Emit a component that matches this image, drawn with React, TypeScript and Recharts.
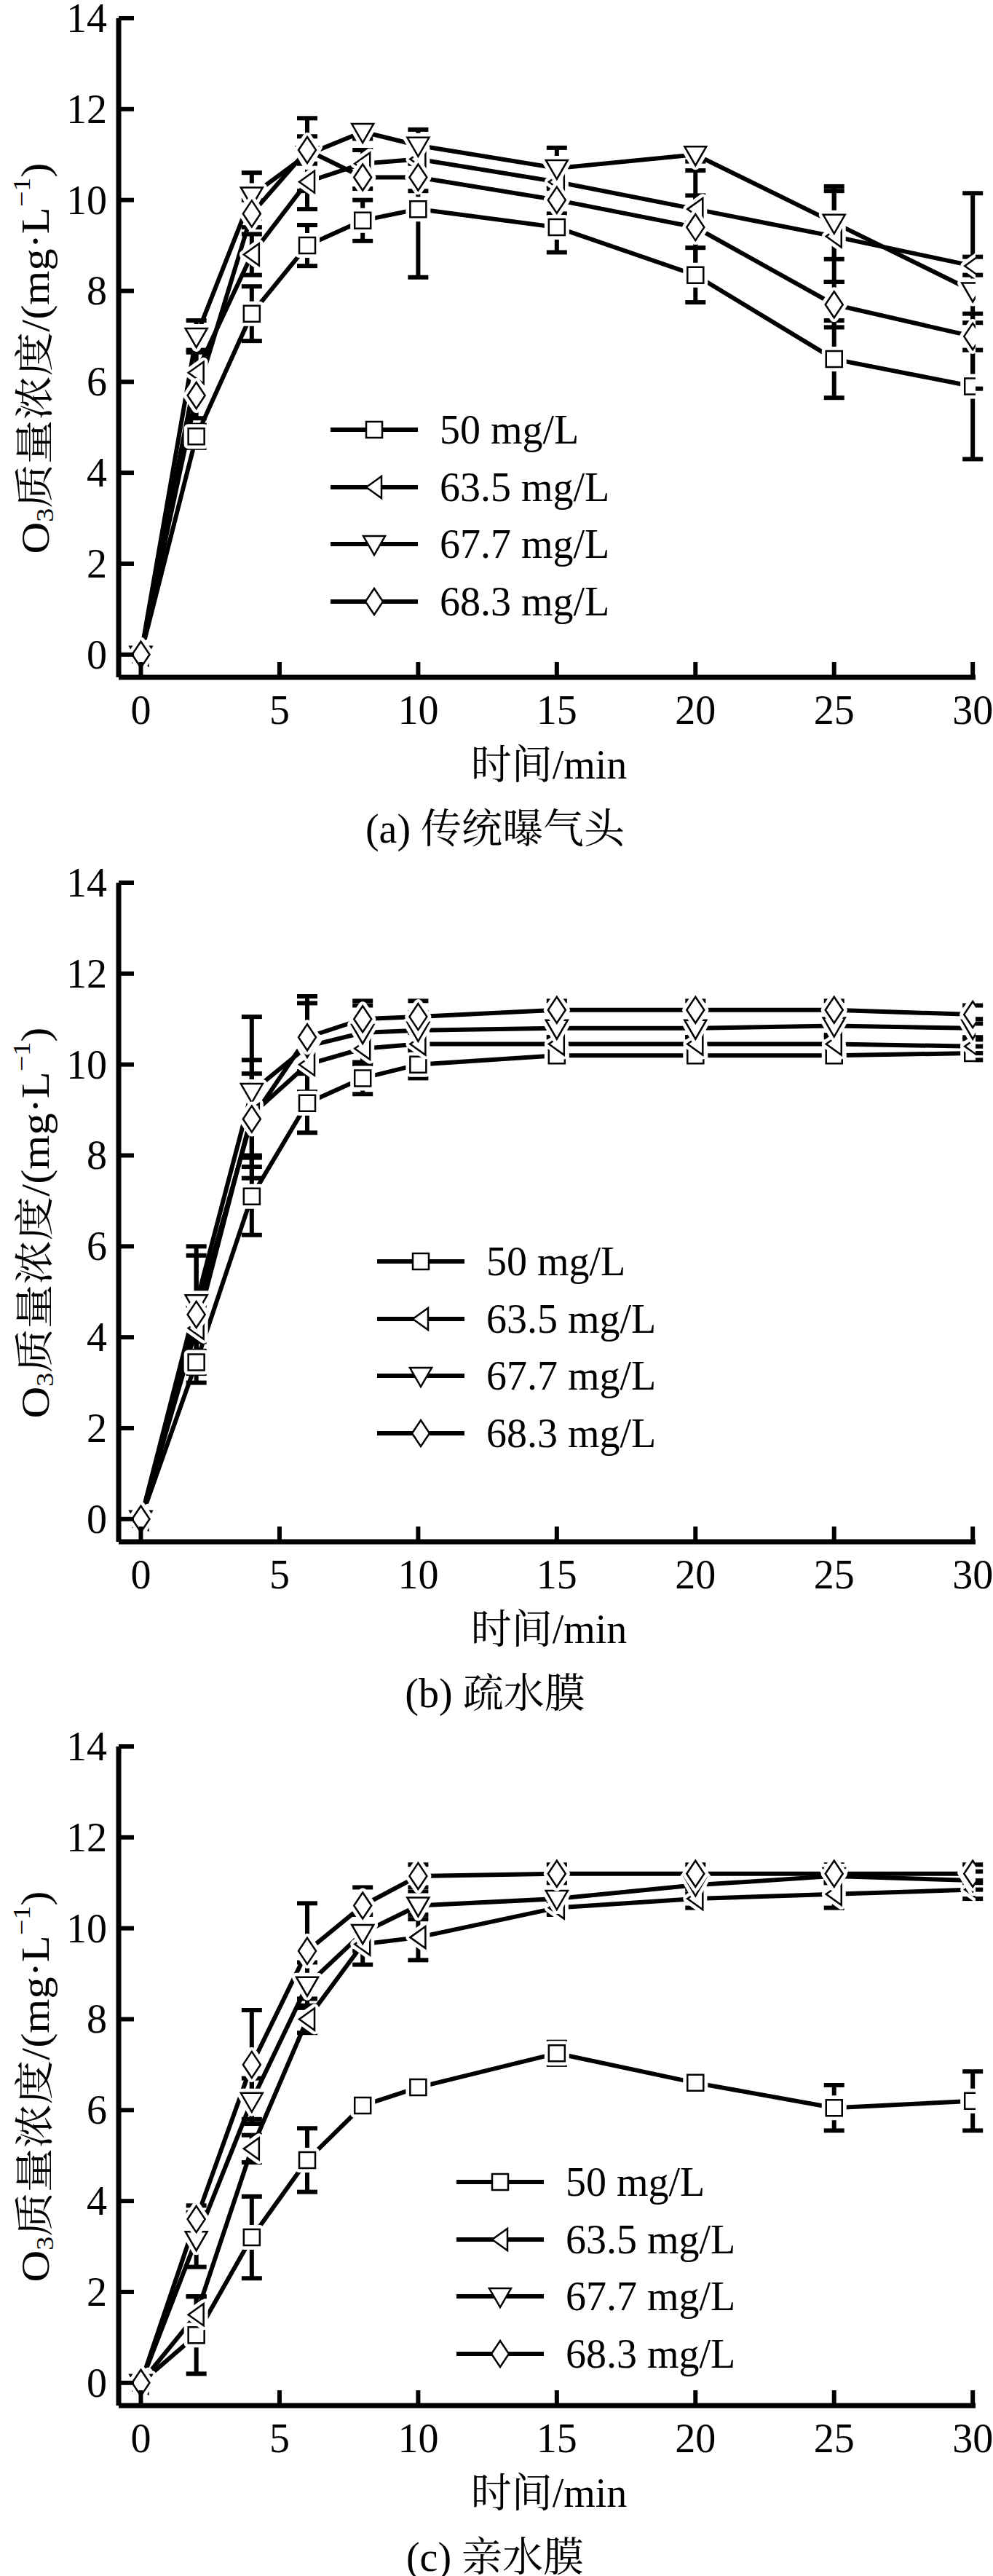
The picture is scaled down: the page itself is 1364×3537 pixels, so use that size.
import { LineChart, Line, XAxis, YAxis, ErrorBar, Legend } from "recharts";

const FONT = '"Liberation Serif", "Times New Roman", "Noto Serif CJK SC", "Noto Sans CJK SC", serif';

// sampling times (min) and axis ticks
const times = [0, 2, 4, 6, 8, 10, 15, 20, 25, 30];
const xTicks = [0, 5, 10, 15, 20, 25, 30];
const yTicks = [0, 2, 4, 6, 8, 10, 12, 14];
const seriesNames = ["50 mg/L", "63.5 mg/L", "67.7 mg/L", "68.3 mg/L"];
const markerShapes = ["square", "left", "down", "diamond"];

// (a) 传统曝气头
const aerator50 = [0, 4.8, 7.5, 9.0, 9.55, 9.8, 9.4, 8.35, 6.5, 5.9];
const aerator50Err = [0.1, 0.25, 0.6, 0.45, 0.45, 1.5, 0.55, 0.6, 0.85, 1.6];
const aerator635 = [0, 6.2, 8.8, 10.4, 10.8, 10.9, 10.4, 9.8, 9.2, 8.55];
const aerator635Err = [0.05, 0.5, 0.45, 0.6, 0.3, 0.3, 0.4, 0.3, 1.0, 0.2];
const aerator677 = [0, 7.0, 10.1, 11.0, 11.5, 11.2, 10.7, 11.0, 9.5, 8.0];
const aerator677Err = [0.05, 0.35, 0.5, 0.8, 0.15, 0.35, 0.45, 0.15, 0.8, 2.15];
const aerator683 = [0, 5.7, 9.7, 11.1, 10.5, 10.5, 10.0, 9.4, 7.7, 7.0];
const aerator683Err = [0.05, 0.5, 0.3, 0.3, 0.25, 0.3, 0.3, 1.25, 0.5, 0.3];

// (b) 疏水膜
const phobic50 = [0, 3.45, 7.1, 9.15, 9.7, 10.0, 10.2, 10.2, 10.2, 10.25];
const phobic50Err = [0.05, 0.45, 0.85, 0.65, 0.35, 0.3, 0.15, 0.15, 0.15, 0.15];
const phobic635 = [0, 4.2, 8.9, 10.0, 10.35, 10.45, 10.45, 10.45, 10.45, 10.4];
const phobic635Err = [0.05, 0.5, 0.9, 0.6, 0.5, 0.3, 0.15, 0.15, 0.15, 0.15];
const phobic677 = [0, 4.75, 9.4, 10.4, 10.7, 10.75, 10.8, 10.8, 10.85, 10.8];
const phobic677Err = [0.05, 1.25, 1.65, 1.1, 0.7, 0.4, 0.2, 0.2, 0.2, 0.2];
const phobic683 = [0, 4.5, 8.8, 10.6, 11.0, 11.05, 11.2, 11.2, 11.2, 11.1];
const phobic683Err = [0.05, 1.3, 1.3, 0.75, 0.3, 0.35, 0.2, 0.2, 0.2, 0.2];

// (c) 亲水膜
const philic50 = [0, 1.05, 3.2, 4.9, 6.1, 6.5, 7.25, 6.6, 6.05, 6.2];
const philic50Err = [0.05, 0.85, 0.9, 0.7, 0.15, 0.2, 0.25, 0.15, 0.5, 0.65];
const philic635 = [0, 1.5, 5.15, 8.0, 9.65, 9.8, 10.45, 10.65, 10.75, 10.85];
const philic635Err = [0.05, 0.4, 0.3, 0.3, 0.45, 0.5, 0.15, 0.2, 0.3, 0.2];
const philic677 = [0, 3.15, 6.2, 8.75, 9.9, 10.5, 10.65, 10.95, 11.15, 11.05];
const philic677Err = [0.05, 0.6, 0.5, 0.5, 0.4, 0.3, 0.2, 0.2, 0.15, 0.2];
const philic683 = [0, 3.6, 7.0, 9.5, 10.5, 11.15, 11.2, 11.2, 11.2, 11.2];
const philic683Err = [0.05, 0.3, 1.2, 1.05, 0.4, 0.25, 0.2, 0.2, 0.2, 0.2];

const markerGeom = (cx: number, cy: number, shape: string) => {
  if (shape === "square") return `${cx - 11},${cy - 11} ${cx + 11},${cy - 11} ${cx + 11},${cy + 11} ${cx - 11},${cy + 11}`;
  if (shape === "left") return `${cx - 11},${cy} ${cx + 10},${cy - 15} ${cx + 10},${cy + 15}`;
  if (shape === "down") return `${cx - 15},${cy - 11} ${cx + 15},${cy - 11} ${cx},${cy + 15}`;
  return `${cx},${cy - 18} ${cx + 12},${cy} ${cx},${cy + 18} ${cx - 12},${cy}`;
};

// halo = white rim so the connecting lines stop short of the symbol (Origin look)
const Marker = ({ cx, cy, shape, halo }: { cx: number; cy: number; shape: string; halo?: boolean }) => {
  const pts = markerGeom(cx, cy, shape);
  return (
    <g>
      {halo && <polygon points={pts} fill="#fff" stroke="#fff" strokeWidth={12} strokeLinejoin="round" />}
      <polygon points={pts} fill="#fff" stroke="#000" strokeWidth={2.5} />
    </g>
  );
};

const XTick = (props: any) => {
  const { x, y, payload } = props;
  return (
    <g>
      <line x1={x} x2={x} y1={y} y2={y - 21} stroke="#000" strokeWidth={6} />
      <text x={x} y={y + 64} textAnchor="middle" fontFamily={FONT} fontSize={56} fill="#000">
        {payload.value}
      </text>
    </g>
  );
};

const YTick = (props: any) => {
  const { x, y, payload } = props;
  return (
    <g>
      <line x1={x} x2={x + 21} y1={y} y2={y} stroke="#000" strokeWidth={6} />
      <text x={x - 16} y={y + 19} textAnchor="end" fontFamily={FONT} fontSize={56} fill="#000">
        {payload.value}
      </text>
    </g>
  );
};

// y title sits a little below the plot middle, as in the source figure
const YTitle = (props: any) => (
  <text
    transform={`translate(49,${492 + props.pad}) rotate(-90)`}
    textAnchor="middle"
    dominantBaseline="central"
    fontFamily={FONT}
    fontSize={54}
    fill="#000"
    textLength={537}
    lengthAdjust="spacingAndGlyphs"
  >
    <tspan>O</tspan>
    <tspan fontSize={34} dy={12}>3</tspan>
    <tspan dy={-12}>质量浓度/(mg·L</tspan>
    <tspan fontSize={34} dy={-20}>−1</tspan>
    <tspan dy={20}>)</tspan>
  </text>
);

const XTitle = (props: any) => (
  <g fontFamily={FONT} fontSize={56} fill="#000">
    <text x={754} y={1069 + props.pad} textAnchor="middle">时间/min</text>
    <text x={680} y={1157 + props.pad} textAnchor="middle">{props.caption}</text>
  </g>
);

const LegendBody = (props: any) => {
  const items = props.payload || [];
  return (
    <div style={{ fontFamily: FONT, fontSize: 56, color: "#000" }}>
      {items.map((entry: any) => {
        const k = seriesNames.indexOf(entry.value);
        return (
          <div key={entry.value} style={{ display: "flex", alignItems: "center", height: 78.5, whiteSpace: "nowrap" }}>
            <svg width={120} height={40} style={{ display: "block" }}>
              <line x1={0} x2={120} y1={20} y2={20} stroke="#000" strokeWidth={6} />
              <Marker cx={60} cy={20} shape={markerShapes[k]} />
            </svg>
            <span style={{ marginLeft: 30 }}>{entry.value}</span>
          </div>
        );
      })}
    </div>
  );
};

const Panel = ({
  top,
  pad,
  values,
  errors,
  legendX,
  legendY,
  caption,
}: {
  top: number;
  pad: number;
  values: number[][];
  errors: number[][];
  legendX: number;
  legendY: number;
  caption: string;
}) => {
  const rows = times.map((t, i) => {
    const row: Record<string, number> = { t };
    values.forEach((s, k) => {
      row[`v${k}`] = s[i];
      row[`e${k}`] = errors[k][i];
    });
    return row;
  });

  return (
    <div style={{ position: "absolute", left: 0, top: top - pad }}>
      <LineChart
        width={1364}
        height={1187 + pad}
        data={rows}
        margin={{ top: 25 + pad, right: 24, bottom: 197, left: 63 }}
      >
        <XAxis
          dataKey="t"
          type="number"
          domain={[-0.8, 30.1]}
          ticks={xTicks}
          interval={0}
          allowDataOverflow
          height={60}
          axisLine={{ stroke: "#000", strokeWidth: 7 }}
          tickLine={false}
          tickSize={0}
          tickMargin={0}
          tick={<XTick />}
          label={<XTitle caption={caption} pad={pad} />}
        />
        <YAxis
          type="number"
          domain={[-0.5, 14]}
          ticks={yTicks}
          interval={0}
          allowDataOverflow
          width={100}
          axisLine={{ stroke: "#000", strokeWidth: 7 }}
          tickLine={false}
          tickSize={0}
          tickMargin={0}
          tick={<YTick />}
          label={<YTitle pad={pad} />}
        />
        <Legend
          layout="vertical"
          align="center"
          verticalAlign="middle"
          content={<LegendBody />}
          wrapperStyle={{ left: legendX, top: legendY + pad, width: "auto", height: "auto" }}
        />
        {values.map((_, k) => (
          <Line
            key={k}
            name={seriesNames[k]}
            dataKey={`v${k}`}
            type="linear"
            stroke="#000"
            strokeWidth={6}
            activeDot={false}
            isAnimationActive={false}
            dot={(p: any) => <Marker key={`d${k}-${p.index}`} cx={p.cx} cy={p.cy} shape={markerShapes[k]} halo />}
          >
            <ErrorBar dataKey={`e${k}`} direction="y" width={14} strokeWidth={6} stroke="#000" />
          </Line>
        ))}
      </LineChart>
    </div>
  );
};

export default function App() {
  return (
    <div style={{ position: "absolute", left: 0, top: 0, width: 1364, height: 3537, background: "#fff" }}>
      <Panel
        top={0}
        pad={0}
        values={[aerator50, aerator635, aerator677, aerator683]}
        errors={[aerator50Err, aerator635Err, aerator677Err, aerator683Err]}
        legendX={454}
        legendY={551}
        caption="(a) 传统曝气头"
      />
      <Panel
        top={1187}
        pad={30}
        values={[phobic50, phobic635, phobic677, phobic683]}
        errors={[phobic50Err, phobic635Err, phobic677Err, phobic683Err]}
        legendX={518}
        legendY={506}
        caption="(b) 疏水膜"
      />
      <Panel
        top={2373}
        pad={30}
        values={[philic50, philic635, philic677, philic683]}
        errors={[philic50Err, philic635Err, philic677Err, philic683Err]}
        legendX={627}
        legendY={584}
        caption="(c) 亲水膜"
      />
    </div>
  );
}
